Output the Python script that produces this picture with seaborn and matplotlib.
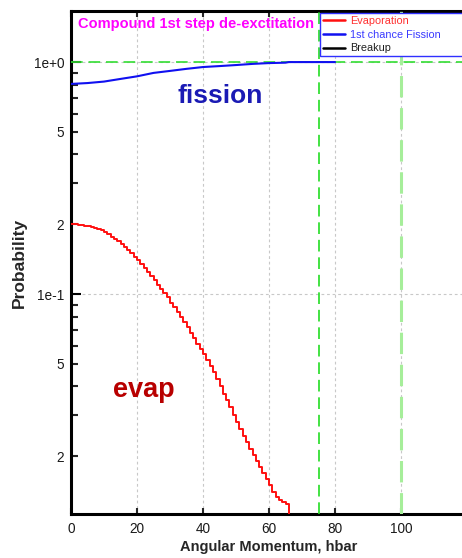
import numpy as np
import pandas as pd
import matplotlib
matplotlib.use("Agg")
import matplotlib.pyplot as plt
import seaborn as sns
from matplotlib.ticker import LogLocator, FuncFormatter, FixedLocator, NullFormatter
from matplotlib.lines import Line2D

# ---- data ----
evap_J = list(range(0, 67))
evap_P = [0.200, 0.200, 0.199, 0.198, 0.197, 0.196, 0.194, 0.192, 0.190, 0.188,
          0.185, 0.181, 0.177, 0.173, 0.169, 0.164, 0.159, 0.155, 0.150, 0.145,
          0.140, 0.135, 0.130, 0.125, 0.120, 0.115, 0.110, 0.105, 0.101, 0.097,
          0.092, 0.088, 0.084, 0.080, 0.076, 0.072, 0.068, 0.065, 0.061, 0.058,
          0.055, 0.052, 0.049, 0.046, 0.043, 0.040, 0.037, 0.035, 0.0325, 0.0302,
          0.0282, 0.0263, 0.0245, 0.0230, 0.0216, 0.0203, 0.0191, 0.0180, 0.0169, 0.0159,
          0.0150, 0.0141, 0.0134, 0.0130, 0.0127, 0.0125, 0.0001]

fis_J = [0, 5, 10, 15, 20, 25, 30, 35, 40, 45, 50, 55, 60, 65, 66, 70, 75, 80]
fis_P = [0.805, 0.812, 0.824, 0.846, 0.868, 0.898, 0.916, 0.935, 0.952, 0.961,
         0.971, 0.982, 0.990, 0.994, 1.0, 1.0, 1.0, 1.0]

breakup_J = []
breakup_P = []

series_labels = ["Evaporation", "1st chance Fission", "Breakup"]
series_colors = ["#ff1010", "#1010f0", "#000000"]
legend_text_colors = ["#ff3030", "#3a3aff", "#202020"]

x_ticks = [0, 20, 40, 60, 80, 100]
y_major = [0.1, 1.0]
y_major_labels = {0.1: "1e-1", 1.0: "1e+0"}
y_minor_labels = {2: "2", 5: "5"}

title_text = "Compound 1st step de-exctitation"
xlabel = "Angular Momentum, hbar"
ylabel = "Probability"

# ---- figure ----
sns.set_style("white")
plt.rcParams["font.family"] = ["Liberation Sans", "DejaVu Sans"]

W, H = 462, 558
fig = plt.figure(figsize=(W / 100, H / 100), dpi=100)
ax_l, ax_r, ax_t, ax_b = 71, 467, 11, 514
ax = fig.add_axes([ax_l / W, (H - ax_b) / H, (ax_r - ax_l) / W, (ax_b - ax_t) / H])

evap_df = pd.DataFrame({"J": evap_J, "P": evap_P})
fis_df = pd.DataFrame({"J": fis_J, "P": fis_P})

sns.lineplot(data=evap_df, x="J", y="P", ax=ax, color=series_colors[0], lw=1.4,
             drawstyle="steps-post", estimator=None, sort=False, zorder=5)
sns.lineplot(data=fis_df, x="J", y="P", ax=ax, color=series_colors[1], lw=1.5,
             estimator=None, sort=False, zorder=5)
ax.plot(breakup_J, breakup_P, color=series_colors[2])

ax.set_yscale("log")
ax.set_xlim(0, 120)
ax.set_ylim(0.01128, 1.66)

# green reference lines
ax.axhline(1.0, color="#33dd33", lw=1.2, dashes=(7, 3.5), zorder=3)
ax.axvline(75, color="#22dd22", lw=1.2, dashes=(7, 3.5), zorder=3)
ax.axvline(100, color="#a6ee9a", lw=2.2, dashes=(7, 3.5), zorder=3)

# ticks
ax.xaxis.set_major_locator(FixedLocator(x_ticks))
ax.yaxis.set_major_locator(FixedLocator(y_major))
ax.yaxis.set_major_formatter(FuncFormatter(lambda v, p: y_major_labels.get(round(v, 6), "")))
ax.yaxis.set_minor_locator(LogLocator(base=10, subs=[2, 3, 4, 5, 6, 7, 8, 9], numticks=20))


def minor_fmt(v, p):
    e = np.floor(np.log10(v) + 1e-9)
    m = int(round(v / 10 ** e))
    return y_minor_labels.get(m, "")


ax.yaxis.set_minor_formatter(FuncFormatter(minor_fmt))
ax.xaxis.set_minor_formatter(NullFormatter())

ax.tick_params(axis="y", which="major", direction="in", length=7, width=1.5,
               labelsize=9.8, pad=5, left=True, right=False, colors="black")
ax.tick_params(axis="y", which="minor", direction="in", length=5, width=1.5,
               labelsize=9.8, pad=5, left=True, right=False)
ax.tick_params(axis="x", which="major", direction="in", length=4, width=1.5,
               labelsize=9.8, pad=6, top=True, bottom=True)
for lab in ax.get_xticklabels() + ax.get_yticklabels() + ax.get_yticklabels(minor=True):
    lab.set_color("#1a1a1a")

# grid
ax.grid(True, which="major", axis="both", color="#c8c8c8", lw=0.8, ls=(0, (2.5, 2.5)), zorder=0)
ax.set_axisbelow(True)

for s in ["left", "bottom", "top", "right"]:
    ax.spines[s].set_linewidth(2.2)
    ax.spines[s].set_color("black")

# labels
ax.set_xlabel(xlabel, fontsize=10.5, fontweight="bold")
ax.set_ylabel(ylabel, fontsize=12.5, fontweight="bold")
ax.xaxis.set_label_coords(0.5, -0.052)
ax.yaxis.set_label_coords((27 - ax_l) / (ax_r - ax_l), 0.5)

# annotations
ax.text((78 - ax_l) / (ax_r - ax_l), (ax_b - 24) / (ax_b - ax_t), title_text,
        transform=ax.transAxes, color="#ff00ff", fontsize=10.5, fontweight="bold",
        ha="left", va="center")
ax.text((220 - ax_l) / (ax_r - ax_l), (ax_b - 96) / (ax_b - ax_t), "fission",
        transform=ax.transAxes, color="#1a1ab4", fontsize=19, fontweight="bold",
        ha="center", va="center")
ax.text((144 - ax_l) / (ax_r - ax_l), (ax_b - 390) / (ax_b - ax_t), "evap",
        transform=ax.transAxes, color="#b80000", fontsize=19.5, fontweight="bold",
        ha="center", va="center")

# legend (box runs past the right edge of the picture, as in the reference)
handles = [Line2D([], [], color=c, lw=1.8) for c in series_colors]
x0 = (320 - ax_l) / (ax_r - ax_l)
y0 = (ax_b - 13) / (ax_b - ax_t)
leg = ax.legend(handles, series_labels, loc="upper left",
                bbox_to_anchor=(x0, y0, 1.05 - x0, 0), mode="expand",
                borderaxespad=0, fontsize=7.8, frameon=True, fancybox=False,
                handlelength=2.1, handletextpad=0.4, labelspacing=0.35,
                borderpad=0.25)
leg.get_frame().set_edgecolor("#3030ff")
leg.get_frame().set_linewidth(1.0)
leg.get_frame().set_alpha(1)
for t, c in zip(leg.get_texts(), legend_text_colors):
    t.set_color(c)
leg.set_zorder(10)

fig.savefig("out.png", dpi=100)
